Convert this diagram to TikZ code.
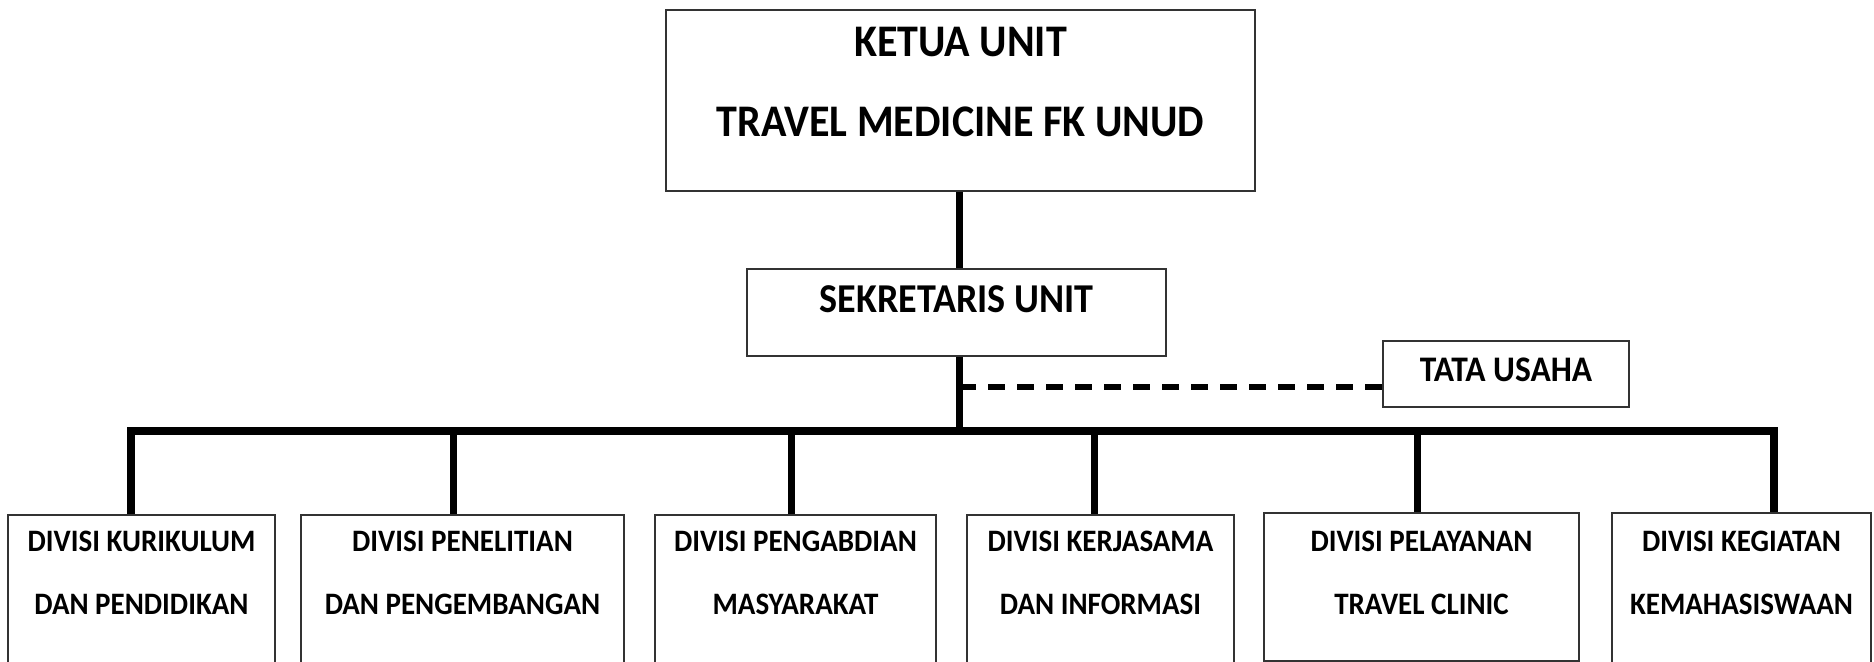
\documentclass[tikz,border=0pt]{standalone}
\usepackage{fontspec}
\setmainfont{Carlito}[FakeStretch=0.93]
\usetikzlibrary{backgrounds}

% text block inside a box: width, height, first baseline, lines
\newcommand{\boxtext}[4]{\parbox[t][#2][t]{#1}{\centering\rule{0pt}{#3}#4}}

\begin{document}
\begin{tikzpicture}[x=0.5pt, y=-0.5pt,
  background rectangle/.style={fill=white}, show background rectangle,
  unitbox/.style={draw=black!80, line width=0.8pt, inner sep=0pt},
  headfont/.style={font=\fontsize{22.6pt}{40pt}\selectfont\bfseries},
  secfont/.style={font=\fontsize{20.5pt}{24pt}\selectfont\bfseries},
  tatafont/.style={font=\fontsize{18pt}{22pt}\selectfont\bfseries},
  divfont/.style={font=\fontsize{15.6pt}{31.5pt}\selectfont\bfseries},
  link/.style={line width=3.5pt},
  bus/.style={line width=4.2pt, line join=miter},
  staff/.style={line width=3pt, dash pattern=on 8.5pt off 6pt}]
  \useasboundingbox (0,0) rectangle (1874,662);
  % Top of the chart
  \node[unitbox, headfont] (ketua) at (960.5,100.5)
    {\boxtext{294.5pt}{90.5pt}{23.5pt}{KETUA UNIT\\TRAVEL MEDICINE FK UNUD}};
  \node[unitbox, secfont] (sekre) at (956.5,312.5)
    {\boxtext{209.5pt}{43.5pt}{22pt}{SEKRETARIS UNIT}};
  \node[unitbox, tatafont] (tata) at (1506,374)
    {\boxtext{123pt}{33pt}{20.5pt}{TATA USAHA}};
  % Divisions
  \node[unitbox, divfont] (div1) at (141.5,593.5)
    {\boxtext{133.5pt}{78.5pt}{18.5pt}{DIVISI KURIKULUM\\DAN PENDIDIKAN}};
  \node[unitbox, divfont] (div2) at (462.5,593.5)
    {\boxtext{161.5pt}{78.5pt}{18.5pt}{DIVISI PENELITIAN\\DAN PENGEMBANGAN}};
  \node[unitbox, divfont] (div3) at (795.5,593.5)
    {\boxtext{140.5pt}{78.5pt}{18.5pt}{DIVISI PENGABDIAN\\MASYARAKAT}};
  \node[unitbox, divfont] (div4) at (1100.5,593.5)
    {\boxtext{133.5pt}{78.5pt}{18.5pt}{DIVISI KERJASAMA\\DAN INFORMASI}};
  \node[unitbox, divfont] (div5) at (1421.5,587)
    {\boxtext{157.5pt}{74pt}{19.5pt}{DIVISI PELAYANAN\\TRAVEL CLINIC}};
  \node[unitbox, divfont] (div6) at (1741.5,592.5)
    {\boxtext{129.5pt}{79.5pt}{19.5pt}{DIVISI KEGIATAN\\KEMAHASISWAAN}};
  % Branch points
  \coordinate (spine) at (959,431);
  \coordinate (staffend) at (959,387.5);
  \coordinate (t1) at (131,431);
  \coordinate (t2) at (453,431);
  \coordinate (t3) at (791,431);
  \coordinate (t4) at (1094,431);
  \coordinate (t5) at (1417,431);
  \coordinate (t6) at (1774,431);
  % Lines
  \draw[link] (ketua.south -| spine) -- (sekre.north -| spine);
  \draw[link] (sekre.south -| spine) -- (spine);
  \draw[staff] (staffend) -- (staffend -| tata.west);
  \draw[bus] (div1.north -| t1) -- (t1) -- (t6) -- (div6.north -| t6);
  \foreach \t/\d in {t2/div2, t3/div3, t4/div4, t5/div5}
    \draw[link] (\t) -- (\d.north -| \t);
\end{tikzpicture}
\end{document}
